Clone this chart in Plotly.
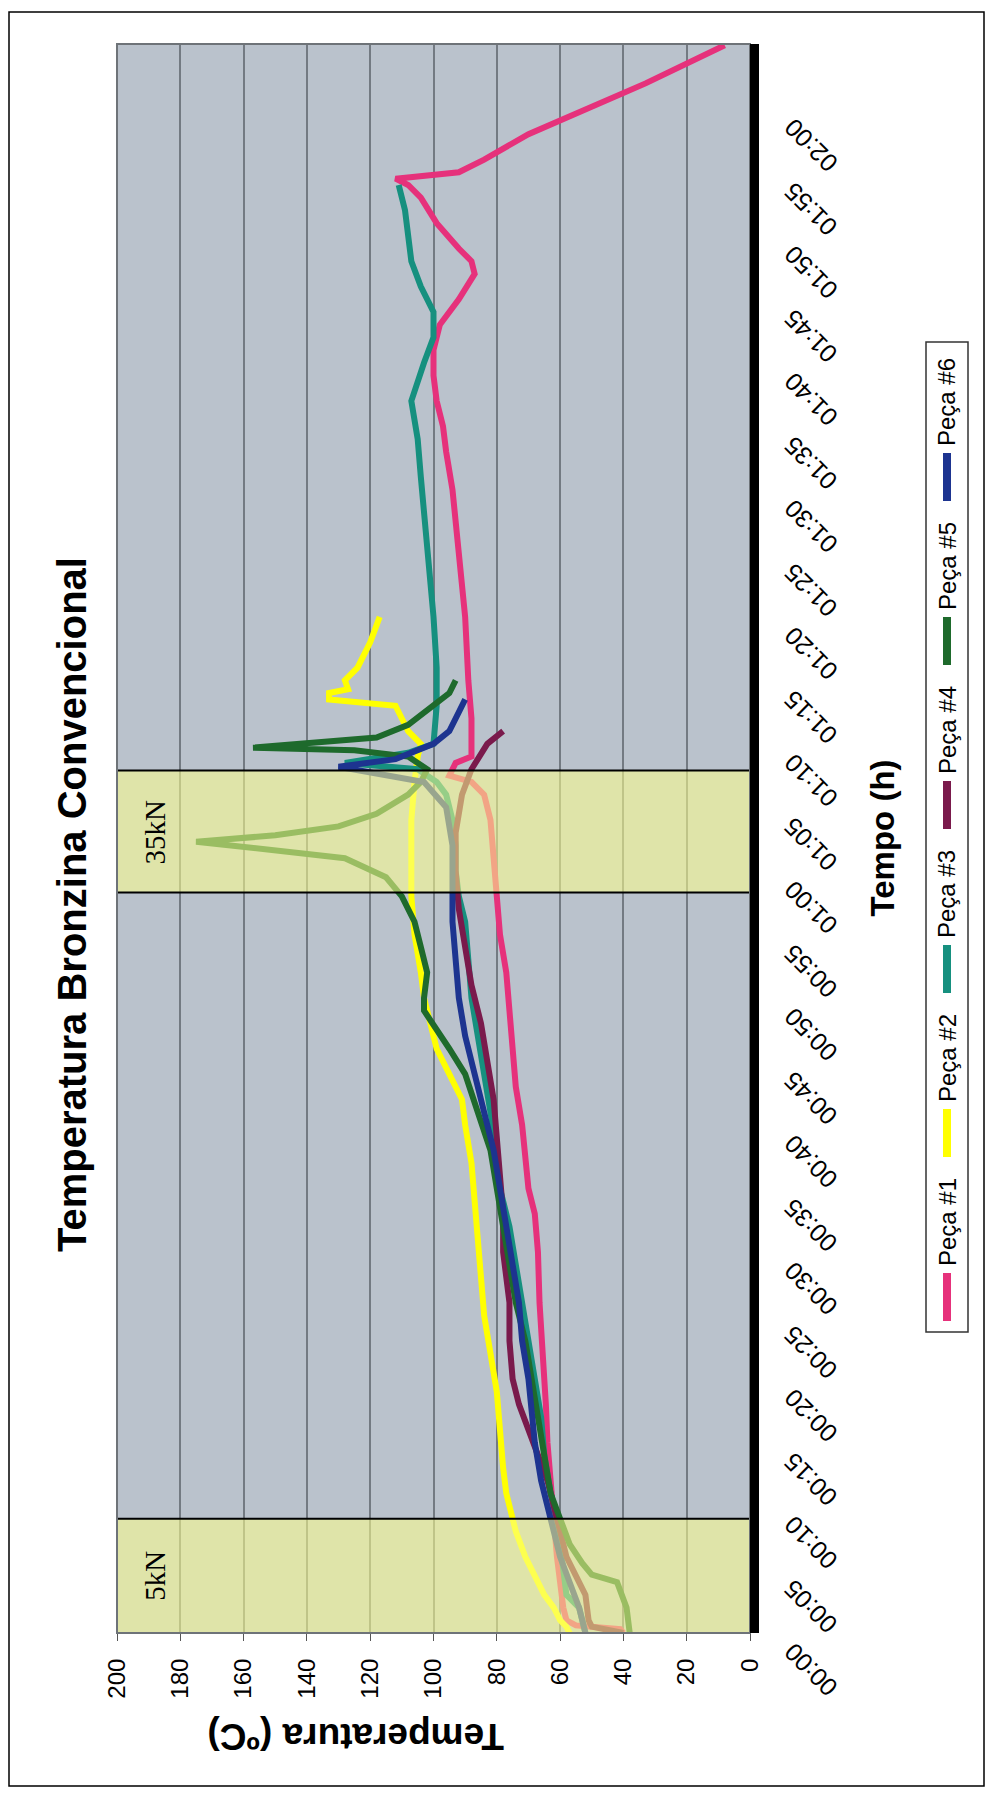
import plotly.graph_objects as go

# ---- data: time in minutes, temperature in degrees C ----
t1 = [0, 0.3, 0.6, 1, 2, 4, 6, 9, 12, 15, 18, 20, 23, 26, 30, 33, 35, 38, 40, 43, 46, 49, 52, 55, 58, 61, 64, 66,
      67, 67.5, 68.5, 69, 72, 75, 80, 85, 88, 90, 93, 95, 97, 99, 101, 103, 105, 107, 108, 109, 111, 113, 114,
      114.5, 115, 116, 118, 120, 122, 125]
T1 = [40, 41, 55, 58, 59, 60, 61, 62, 63, 64, 64.5, 65, 66, 66.5, 67, 68, 70, 71, 72, 74, 75, 76, 77, 79, 80, 81,
      82, 84, 88, 95, 93, 88, 88, 89, 90, 92, 93, 94, 96, 97, 99, 100, 100, 98, 92, 87, 88, 92, 99, 104, 108,
      112, 92, 84, 70, 52, 33, 8]

t2 = [0, 0.5, 1, 2, 3, 4.5, 6, 8, 9, 11, 13, 16, 19, 22, 25, 28, 31, 34, 37, 40, 42, 44, 46, 48, 50, 52, 55, 58,
      61, 64, 67, 69, 70, 71, 72, 73, 73.5, 74, 74.3, 75, 76, 78, 80]
T2 = [57, 58, 60, 62, 65, 68, 71, 74, 75, 77, 78, 79, 80, 82, 84, 85, 86, 87, 88, 90, 91, 95, 99, 101, 103, 104,
      106, 107, 107, 107, 106, 105, 104, 108, 110, 112, 133, 133, 127, 128, 124, 120, 117]

t3 = [0, 2, 3, 5, 7, 9, 11, 14, 17, 20, 23, 26, 29, 32, 35, 38, 41, 44, 47, 50, 53, 56, 58, 60, 62, 64, 66, 67,
      68, 68.5, 69.3, 70, 73, 76, 80, 85, 88, 91, 94, 97, 100, 102, 104, 106, 108, 110, 112, 114]
T3 = [52, 54, 58, 59, 60, 61, 63, 65, 66, 68, 70, 72, 74, 76, 79, 80, 82, 84, 86, 88, 89, 90, 92, 93, 93, 94, 96,
      99, 105, 128, 108, 100, 99, 99, 100, 102, 103, 104, 105, 107, 103, 100, 100, 104, 107, 108, 109, 111]

t4 = [0, 0.5, 1, 3, 4.5, 6, 9, 12, 14, 16, 18, 20, 23, 26, 28, 30, 33, 36, 39, 42, 45, 48, 51, 54, 57, 60, 63,
      66, 68, 70, 71]
T4 = [40, 50, 51, 52, 55, 58, 61, 64, 67, 70, 73, 75, 76, 76, 77, 78, 78, 79, 80, 81, 83, 85, 88, 90, 92, 93, 93,
      91, 88, 83, 78]

t5 = [0, 2, 4, 4.6, 5.5, 7, 9, 11, 14, 17, 20, 23, 26, 29, 32, 35, 38, 41, 44, 46, 48, 49, 50, 52, 54, 56, 58,
      59.5, 61, 62.3, 62.8, 63.5, 64.5, 66, 67, 68, 69, 69.5, 69.7, 70, 70.5, 71.5, 73, 74, 75]
T5 = [38, 39, 42, 50, 53, 57, 60, 63, 65, 67, 69, 71, 74, 76, 78, 80, 82, 86, 90, 95, 100, 103, 103, 102, 104, 106,
      110, 115, 128, 175, 150, 130, 118, 108, 104, 102, 108, 125, 157, 140, 118, 108, 100, 95, 93]

t6 = [0, 2, 4, 6, 9, 12, 15, 18, 20, 23, 26, 29, 32, 35, 38, 41, 44, 47, 50, 53, 56, 59, 62, 65, 67, 68.2, 68.8,
      70, 71, 72.5, 73.5]
T6 = [52, 54, 57, 60, 63, 66, 68, 69, 70, 72, 73, 75, 77, 79, 81, 84, 87, 90, 92, 93, 94, 94, 94, 96, 103, 130, 112,
      100, 95, 92, 90]

series_names = ["Peça #1", "Peça #2", "Peça #3", "Peça #4", "Peça #5", "Peça #6"]
series_colors = ["#E6317B", "#FFFF00", "#16907F", "#7A1A4C", "#1E6A2C", "#1D3490"]
series_t = [t1, t2, t3, t4, t5, t6]
series_T = [T1, T2, T3, T4, T5, T6]

# load phases (minutes) and their labels
phase_labels = ["5kN", "35kN"]
phase_start = [0, 58.3]
phase_end = [9, 67.9]

temp_ticks = list(range(0, 201, 20))
time_ticks = list(range(0, 121, 5))
time_labels = [f"{m // 60:02d}:{m % 60:02d}" for m in time_ticks]

T_MAX = 200
TIME_MAX = 125.1

# ---- page geometry (pixels) ----
W, H = 992, 1801
PL, PR, PT, PB = 117, 750, 44, 1633


def px(xp):
    return (xp - PL) / (PR - PL)


def py(yp):
    return (PB - yp) / (PB - PT)


fig = go.Figure()
for name, color, tt, TT in zip(series_names, series_colors, series_t, series_T):
    fig.add_trace(go.Scatter(x=TT, y=tt, mode="lines", name=name,
                             line=dict(color=color, width=6), showlegend=False))

shapes = []
annotations = []

# load phase bands drawn over the curves
for lab, y0, y1 in zip(phase_labels, phase_start, phase_end):
    shapes.append(dict(type="rect", xref="x", yref="y", x0=0, x1=T_MAX, y0=y0, y1=y1,
                       fillcolor="rgba(252,255,140,0.56)", line=dict(color="black", width=2),
                       layer="above"))
    annotations.append(dict(x=188, y=(y0 + y1) / 2, xref="x", yref="y", text=lab,
                            textangle=-90, showarrow=False, xanchor="center", yanchor="middle",
                            font=dict(family="Liberation Serif", size=29, color="black")))

# plot-area border and the heavy time-axis line on the right
shapes.append(dict(type="rect", xref="paper", yref="paper", x0=0, x1=1, y0=0, y1=1,
                   line=dict(color="#6E7378", width=2), layer="above"))
shapes.append(dict(type="rect", xref="paper", yref="paper", x0=1, x1=px(PR + 9), y0=0, y1=1,
                   fillcolor="black", line=dict(width=0), layer="above"))

# outer frame
shapes.append(dict(type="rect", xref="paper", yref="paper", x0=px(9), x1=px(984), y0=py(1786), y1=py(12),
                   line=dict(color="black", width=1.5), layer="above"))

# time tick labels (rotated)
for t, lab in zip(time_ticks, time_labels):
    annotations.append(dict(x=px(811), y=t, xref="paper", yref="y", yshift=-37, text=lab,
                            textangle=-135, showarrow=False, xanchor="center", yanchor="middle",
                            font=dict(family="Liberation Sans", size=25, color="black")))

# titles
annotations.append(dict(x=px(72), y=py(905), xref="paper", yref="paper",
                        text="<b>Temperatura Bronzina Convencional</b>", textangle=-90, showarrow=False,
                        xanchor="center", yanchor="middle",
                        font=dict(family="Liberation Sans", size=40, color="black")))
annotations.append(dict(x=px(882), y=0.5, xref="paper", yref="paper", text="<b>Tempo (h)</b>",
                        textangle=-90, showarrow=False, xanchor="center", yanchor="middle",
                        font=dict(family="Liberation Sans", size=33, color="black")))
annotations.append(dict(x=px(356), y=py(1737), xref="paper", yref="paper", text="<b>Temperatura (ºC)</b>",
                        textangle=180, showarrow=False, xanchor="center", yanchor="middle",
                        font=dict(family="Liberation Sans", size=37, color="black")))

# legend box with vertical entries
LX0, LX1, LY0, LY1 = 926, 968, 342, 1332
shapes.append(dict(type="rect", xref="paper", yref="paper", x0=px(LX0), x1=px(LX1), y0=py(LY1), y1=py(LY0),
                   line=dict(color="#333333", width=1.5), fillcolor="white", layer="above"))
LCX = (LX0 + LX1) / 2
for i, (name, color) in enumerate(zip(series_names, series_colors)):
    yb = 1321 - i * 164
    shapes.append(dict(type="line", xref="paper", yref="paper", x0=px(LCX), x1=px(LCX),
                       y0=py(yb), y1=py(yb - 48), line=dict(color=color, width=8), layer="above"))
    annotations.append(dict(x=px(LCX), y=py(yb - 48 - 5), xref="paper", yref="paper", text=name,
                            textangle=-90, showarrow=False, xanchor="center", yanchor="bottom",
                            font=dict(family="Liberation Sans", size=24, color="black")))

fig.update_layout(
    width=W, height=H,
    margin=dict(l=PL, r=W - PR, t=PT, b=H - PB),
    paper_bgcolor="white", plot_bgcolor="#BAC2CC",
    shapes=shapes, annotations=annotations, showlegend=False,
    xaxis=dict(range=[T_MAX, 0], tickvals=temp_ticks, ticktext=[str(v) for v in temp_ticks],
               tickangle=-90, ticks="outside", ticklen=7, tickcolor="#555555", ticklabelstandoff=8,
               showgrid=True, gridcolor="#737A82", gridwidth=1.5, zeroline=False, showline=False,
               tickfont=dict(family="Liberation Sans", size=24, color="black")),
    yaxis=dict(range=[0, TIME_MAX], showgrid=False, zeroline=False, showticklabels=False,
               showline=False, ticks=""),
)

fig.write_html("out.html")
